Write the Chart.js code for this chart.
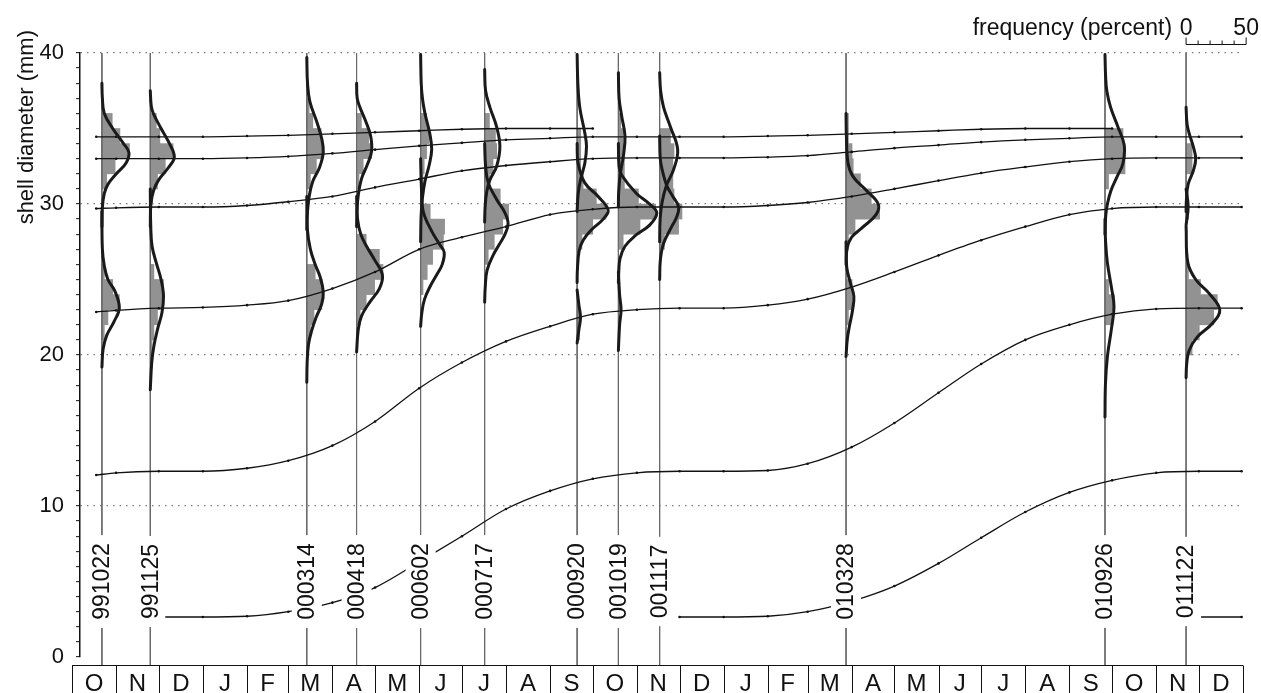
<!DOCTYPE html>
<html>
<head>
<meta charset="utf-8">
<title>shell diameter</title>
<script src="https://cdn.jsdelivr.net/npm/chart.js@4.4.1/dist/chart.umd.min.js"></script>
<style>
  html, body { margin: 0; padding: 0; background: #fff; }
  canvas { display: block; }
</style>
</head>
<body>
<canvas id="shellChart" width="1261" height="693"></canvas>
<script>
const FONT = '"Liberation Sans", Arial, Helvetica, sans-serif';

// sampling dates as printed (yymmdd)
const SAMPLE_LABELS = ['991022', '991125', '000314', '000418', '000602', '000717',
                       '000920', '001019', '001117', '010328', '010926', '011122'];
const MONTH_LABELS = ['O','N','D','J','F','M','A','M','J','J','A','S',
                      'O','N','D','J','F','M','A','M','J','J','A','S','O','N','D'];
const Y_TICKS = [0, 10, 20, 30, 40];

// frequency scale: 50 percent spans this many days of the time axis
const FREQ_SCALE_PCT = 50;
const FREQ_SCALE_DAYS = 42.2;

// growth lines of the cohorts (mm), read at these dates
const GROWTH_DATES = ['1999-10-18','1999-11-01','1999-12-01','2000-01-01','2000-02-01','2000-03-01',
  '2000-04-01','2000-05-01','2000-06-01','2000-07-01','2000-08-01','2000-09-01','2000-10-01',
  '2000-11-01','2000-12-01','2001-01-01','2001-02-01','2001-03-01','2001-04-01','2001-05-01',
  '2001-06-01','2001-07-01','2001-08-01','2001-09-01','2001-10-01','2001-11-01','2001-12-01','2001-12-31'];
const N = null;
const cohort1 = [34.45,34.45,34.45,34.45,34.5,34.55,34.65,34.75,34.85,34.95,35.0,35.0,35.0,N,N,N,N,N,N,N,N,N,N,N,N,N,N,N];
const cohort2 = [33.0,33.0,33.0,33.0,33.05,33.15,33.35,33.6,33.85,34.05,34.25,34.35,34.45,34.45,34.45,34.45,34.5,34.55,34.65,34.75,34.85,34.95,35.0,35.0,35.0,N,N,N];
const cohort3 = [29.7,29.75,29.8,29.8,29.9,30.15,30.5,31.1,31.65,32.2,32.55,32.8,33.0,33.05,33.05,33.05,33.1,33.2,33.45,33.7,33.9,34.1,34.25,34.35,34.45,34.45,34.45,34.45];
const cohort4 = [22.85,22.95,23.1,23.15,23.3,23.6,24.4,25.5,27.0,27.8,28.5,29.3,29.65,29.8,29.8,29.8,29.9,30.1,30.5,31.0,31.55,32.05,32.45,32.8,33.0,33.05,33.05,33.05];
const cohort5 = [12.05,12.2,12.3,12.3,12.5,13.0,14.0,15.6,17.8,19.5,20.9,21.9,22.7,23.0,23.1,23.1,23.3,23.7,24.5,25.5,26.6,27.6,28.5,29.3,29.7,29.8,29.8,29.8];
const cohort6 = [N,N,2.65,2.65,2.7,3.0,3.6,4.6,6.3,8.0,9.8,11.0,11.8,12.2,12.3,12.3,12.35,12.8,13.9,15.5,17.5,19.4,21.0,22.0,22.7,23.05,23.1,23.1];
const cohort7 = [N,N,N,N,N,N,N,N,N,N,N,N,N,N,2.65,2.65,2.7,3.0,3.7,4.7,6.2,7.9,9.6,10.9,11.7,12.2,12.3,12.3];
const cohort8 = [N,N,N,N,N,N,N,N,N,N,N,N,N,N,N,N,N,N,N,N,N,N,N,N,N,N,2.65,2.65];
const COHORTS = [cohort1, cohort2, cohort3, cohort4, cohort5, cohort6, cohort7, cohort8];

// histograms per sample: [lower bin edge mm, frequency %], bins 1 mm wide
const hist991022 = [[35,8.6],[34,15],[33,23],[32,11],[31,4],[25,2],[24,9],[23,14.5],[22,5],[21,2]];
const hist991125 = [[35,5],[34,8],[33,19],[32,12.5],[31,6],[30,2],[25,3],[24,11],[23,11],[22,6],[21,3],[20,1.5]];
const hist000314 = [[36,2],[35,5],[34,12],[33,13.7],[32,8],[31,3],[25,7],[24,13],[23,12.5],[22,6],[21,3],[20,1]];
const hist000418 = [[35,4],[34,10],[33,12.5],[32,5.5],[31,2],[27,8],[26,19],[25,22],[24,15],[23,8],[22,3]];
const hist000602 = [[35,5],[34,7],[33,5],[32,3],[31,2],[29,8],[28,20],[27,19],[26,10],[25,5.5],[24,2]];
const hist000717 = [[35,4],[34,9],[33,10],[32,7],[31,4],[30,13],[29,20],[28,15],[27,8],[26,3]];
const hist000920 = [[34,3],[33,3],[32,3],[31,5],[30,16],[29,24],[28,13],[27,4],[22,3],[21,2]];
const hist001019 = [[35,2],[34,4],[33,5],[32,5],[31,5],[30,16.7],[29,31],[28,18],[27,4],[23,1.5]];
const hist001117 = [[34,9],[33,12],[32,11],[31,11],[30,12],[29,18.6],[28,15.8],[27,4]];
const hist010328 = [[35,2],[34,2],[33,5],[32,6],[31,12],[30,21],[29,28],[28,7.5],[27,2],[24,5],[23,5],[22,2]];
const hist010926 = [[34,15],[33,16.7],[32,16.7],[31,3],[24,3],[23,8],[22,6]];
const hist011122 = [[33,5],[32,5],[29,2],[25,2],[24,12],[23,26],[22,23],[21,11],[20,5]];
const HISTS = [hist991022, hist991125, hist000314, hist000418, hist000602, hist000717,
               hist000920, hist001019, hist001117, hist010328, hist010926, hist011122];

// fitted components per sample: points [mm, frequency %]
const fit991022 = [
  [[38,0],[37,0.4],[36,2],[35,9],[34,18],[33.4,22.5],[32.7,20],[32,12],[31.3,5],[30.7,2],[29.8,0.4],[28.5,0]],
  [[29.5,0],[27,0.4],[25.9,2],[25,5],[24.2,11],[23.1,14.5],[22.2,10],[21.3,4],[20.4,1],[19.2,0]]];
const fit991125 = [
  [[37.5,0],[36.5,0.8],[36,2.5],[35,9],[34,16],[33.1,20],[32.4,15],[31.6,7],[30.9,2.8],[30,0.5],[28.5,0]],
  [[31,0],[28.5,0.4],[27.2,1.5],[26.1,5],[25,9],[23.9,11],[22.8,9.7],[21.7,6],[20.6,3],[19.5,1.2],[17.7,0]]];
const fit000314 = [
  [[39.7,0],[38,0.6],[36.8,2.5],[35.4,8.5],[34.3,12.5],[33.4,13.7],[32.4,10.5],[31.5,5],[30.5,2],[29.5,0.6],[28.3,0]],
  [[30.5,0],[28.3,0.5],[27,3],[26,7],[25.2,11],[24.2,13.7],[23.4,12.5],[22.5,7.8],[21.6,4],[20.7,1.4],[19.5,0.3],[18.2,0]]];
const fit000418 = [
  [[38,0],[37,0.5],[36.4,2.8],[35.4,8],[34.5,11.7],[33.5,12.5],[32.6,8.9],[31.7,4.2],[30.6,1.4],[29.5,0.3],[28.5,0]],
  [[30.5,0],[29,0.8],[28,3.5],[27.2,8.3],[26.3,15],[25.3,21.5],[24.4,19],[23.5,11],[22.6,4.2],[21.7,1.4],[20.2,0]]];
const fit000602 = [
  [[39.9,0],[38,0.5],[37,1.5],[36,3.6],[34.6,7.8],[33.6,9.2],[32.6,7.2],[31.5,3.6],[30.4,1.5],[29.2,0.4],[27.5,0]],
  [[33,0],[31,0.7],[29.5,2.2],[28.2,9.2],[27.3,16],[26.8,19.6],[26,18],[25.4,14],[24.6,8.3],[23.7,3.3],[22.8,1],[21.9,0]]];
const fit000717 = [
  [[38.9,0],[37.5,0.8],[36.4,4.4],[35.1,10],[33.8,12.7],[32.5,10],[31.6,4.4],[30.8,1.7],[29.8,0.4],[28.8,0]],
  [[34,0],[32.5,0.8],[31.4,3],[30.3,10],[29.4,17],[28.7,19.5],[28,17],[27.3,12],[26.6,7],[25.6,2],[24.5,0.5],[23.5,0]]];
const fit000920 = [
  [[39.9,0],[38,0.6],[36.4,2.2],[34.7,6.4],[33.8,7.8],[32.7,6.4],[31.6,2.8],[30.7,0.9],[29.5,0]],
  [[34,0],[32.7,0.8],[31.4,6.4],[30.5,17.5],[29.6,25.8],[29,21.7],[28.3,12],[27.6,5],[26.9,1.7],[25.6,0.2],[24.8,0]],
  [[24.3,0],[23.3,1.5],[22.5,2.8],[21.7,1.5],[20.8,0]]];
const fit001019 = [
  [[38.7,0],[37,0.6],[35.8,2.8],[34.5,5.5],[33.2,4.2],[31.9,1.4],[30.7,0.2],[29.8,0]],
  [[34,0],[32.5,0.6],[31.9,2.8],[30.7,15],[30,26],[29.4,32],[28.6,26],[27.9,14],[27.2,5.5],[26.4,1.4],[25.5,0.3],[24.8,0]],
  [[25.5,0],[24,1],[23,2.2],[22,1],[20.3,0]]];
const fit001117 = [
  [[38.7,0],[37.5,0.8],[36.4,3.3],[35.1,9],[33.6,15],[32.3,11.7],[31.2,5.5],[30.1,2],[29,0.4],[27.5,0]],
  [[34.5,0],[33,0.5],[32.3,2],[31.2,6],[30.5,11],[29.8,15.8],[29.1,14],[28.5,10],[27.4,3.3],[26.3,0.6],[25,0]]];
const fit010328 = [
  [[36,0],[34.5,0.3],[32.7,1.7],[31.8,6],[30.9,17],[30,26.8],[29.3,25],[28.4,13],[27.8,4.7],[27.1,1],[26,0]],
  [[27.5,0],[25.8,0.6],[24.7,3.9],[23.9,6.5],[23,5.5],[21.9,2.8],[21,1],[19.9,0]]];
const fit010926 = [
  [[39.9,0],[38.5,0.5],[37.5,1.5],[36.4,4.7],[35.1,10.8],[33.9,16],[32.7,15],[31.8,10],[30.9,5],[30,2],[29.2,0.6],[28,0]],
  [[29,0],[27.5,0.5],[26.1,2],[24.5,5.3],[23.2,7.5],[21.7,5.3],[19.9,2],[18.1,0.4],[15.9,0]]];
const fit011122 = [
  [[36.4,0],[35.3,0.8],[34.7,2.5],[33.8,6],[33,8],[32.2,6],[31.3,1.7],[30.3,0.3],[29.5,0]],
  [[31,0],[29.8,1.7],[28.6,0]],
  [[28.5,0],[26.1,1.5],[25,8],[24.1,19],[23,28],[22.1,22],[21.2,9.4],[20.3,2.5],[19.4,0.5],[18.5,0]]];
const FITS = [fit991022, fit991125, fit000314, fit000418, fit000602, fit000717,
              fit000920, fit001019, fit001117, fit010328, fit010926, fit011122];

// time axis: days since 1 Oct 1999
function dayOf(iso) {
  const [y, m, d] = iso.split('-').map(Number);
  return (Date.UTC(y, m - 1, d) - Date.UTC(1999, 9, 1)) / 864e5;
}
function sampleDay(lab) {
  const yy = +lab.slice(0, 2);
  return dayOf((yy > 50 ? 1900 + yy : 2000 + yy) + '-' + lab.slice(2, 4) + '-' + lab.slice(4, 6));
}
const sDays = SAMPLE_LABELS.map(sampleDay);
const monthEdges = [];
for (let i = 0; i <= MONTH_LABELS.length; i++) {
  monthEdges.push((Date.UTC(1999, 9 + i, 1) - Date.UTC(1999, 9, 1)) / 864e5);
}
const DAYS_PER_PCT = FREQ_SCALE_DAYS / FREQ_SCALE_PCT;
const X_MIN = 5.6;
const X_MAX = monthEdges[monthEdges.length - 1];
const LABEL_MM = 5.0;

const datasets = [];

// histogram bars (horizontal floating bars from the sample line)
const barData = [];
HISTS.forEach((h, i) => h.forEach(([lo, pct]) => {
  barData.push({ y: lo + 0.5, x: [sDays[i], sDays[i] + pct * DAYS_PER_PCT] });
}));
datasets.push({
  type: 'bar', indexAxis: 'y', data: barData, backgroundColor: '#929292',
  borderWidth: 0, categoryPercentage: 1, barPercentage: 1, order: 4
});

// sample lines
sDays.forEach(d => datasets.push({
  type: 'line', data: [{ x: d, y: 40 }, { x: d, y: -0.55 }],
  borderColor: '#6a6a6a', borderWidth: 1, pointRadius: 0, clip: false, order: 3
}));

// growth lines
COHORTS.forEach(c => datasets.push({
  type: 'line',
  data: GROWTH_DATES.map((g, k) => ({ x: dayOf(g), y: c[k] })).filter(p => p.y !== null),
  borderColor: '#111', borderWidth: 1.3, cubicInterpolationMode: 'monotone',
  pointRadius: 1.3, pointBackgroundColor: '#111', pointBorderWidth: 0, order: 2
}));

// fitted curves
FITS.forEach((comps, i) => comps.forEach(pts => datasets.push({
  type: 'line',
  data: pts.map(([mm, pct]) => ({ x: sDays[i] + pct * DAYS_PER_PCT, y: mm })),
  borderColor: '#1a1a1a', borderWidth: 3, tension: 0.4, pointRadius: 0,
  borderCapStyle: 'round', borderJoinStyle: 'round', order: 1
})));

const decor = {
  id: 'decor',
  afterDatasetsDraw(chart) {
    const { ctx, scales: { x, y } } = chart;
    ctx.save();
    ctx.font = '23px ' + FONT;
    SAMPLE_LABELS.forEach((lab, i) => {
      const px = x.getPixelForValue(sDays[i]);
      const py = y.getPixelForValue(LABEL_MM);
      const w = ctx.measureText(lab).width;
      ctx.fillStyle = '#fff';
      ctx.fillRect(px - 15, py - w / 2 - 8, 30, w + 16);
      ctx.save();
      ctx.translate(px, py);
      ctx.rotate(-Math.PI / 2);
      ctx.fillStyle = '#111';
      ctx.textAlign = 'center';
      ctx.textBaseline = 'middle';
      ctx.fillText(lab, 0, 1);
      ctx.restore();
    });
    ctx.restore();
  },
  afterDraw(chart) {
    const { ctx, scales: { x, y } } = chart;
    ctx.save();
    // month boxes
    const top = y.getPixelForValue(0) + 8.5;
    ctx.strokeStyle = '#111';
    ctx.lineWidth = 1;
    const x0 = x.getPixelForValue(monthEdges[0]);
    const x1 = x.getPixelForValue(monthEdges[monthEdges.length - 1]);
    ctx.beginPath();
    ctx.moveTo(x0, top); ctx.lineTo(x1, top);
    monthEdges.forEach(d => {
      const px = Math.round(x.getPixelForValue(d)) + 0.5;
      ctx.moveTo(px, top); ctx.lineTo(px, top + 40);
    });
    ctx.stroke();
    ctx.fillStyle = '#111';
    ctx.font = '24px ' + FONT;
    ctx.textAlign = 'center';
    ctx.textBaseline = 'alphabetic';
    MONTH_LABELS.forEach((m, i) => {
      const cx = (x.getPixelForValue(monthEdges[i]) + x.getPixelForValue(monthEdges[i + 1])) / 2;
      ctx.fillText(m, cx, top + 25);
    });

    // frequency scale
    const lastDay = sDays[sDays.length - 1];
    const f0 = x.getPixelForValue(lastDay);
    const f50 = x.getPixelForValue(lastDay + FREQ_SCALE_PCT * DAYS_PER_PCT);
    const fy = 44.5;
    ctx.beginPath();
    ctx.moveTo(f0, fy); ctx.lineTo(f50, fy);
    for (let p = 0; p <= FREQ_SCALE_PCT; p += 10) {
      const px = x.getPixelForValue(lastDay + p * DAYS_PER_PCT);
      const h = (p === 0 || p === FREQ_SCALE_PCT) ? 7 : 4;
      ctx.moveTo(px, fy); ctx.lineTo(px, fy - h);
    }
    ctx.stroke();
    ctx.font = '23px ' + FONT;
    ctx.fillText('0', f0, 35);
    ctx.fillText(String(FREQ_SCALE_PCT), f50, 35);
    ctx.textAlign = 'right';
    ctx.fillText('frequency (percent)', f0 - 14, 35);

    // y axis title
    ctx.translate(33, 30);
    ctx.rotate(-Math.PI / 2);
    ctx.textAlign = 'right';
    ctx.font = '22px ' + FONT;
    ctx.fillText('shell diameter (mm)', 0, 0);
    ctx.restore();
  }
};

new Chart(document.getElementById('shellChart'), {
  type: 'line',
  data: { datasets },
  options: {
    responsive: false,
    animation: false,
    devicePixelRatio: 1,
    events: [],
    layout: { padding: { top: 53, right: 18, bottom: 36, left: 0 } },
    plugins: { legend: { display: false }, tooltip: { enabled: false } },
    scales: {
      x: { type: 'linear', min: X_MIN, max: X_MAX, display: false },
      y: {
        type: 'linear', min: 0, max: 40, offset: false,
        afterFit: s => { s.width = 80; },
        ticks: {
          stepSize: 1, maxTicksLimit: 50, autoSkip: false, padding: 12, color: '#111',
          font: { family: FONT, size: 22 },
          callback: v => Y_TICKS.includes(v) ? String(v) : ''
        },
        grid: {
          offset: false,
          color: c => (c.tick && c.tick.value > 0 && Y_TICKS.includes(c.tick.value)) ? '#7a7a7a' : 'rgba(0,0,0,0)',
          lineWidth: 1.3, tickLength: 4, tickColor: '#111', tickWidth: 1
        },
        border: { display: true, color: '#111', width: 1.5, dash: [1.5, 5] }
      }
    }
  },
  plugins: [decor]
});
</script>
</body>
</html>
